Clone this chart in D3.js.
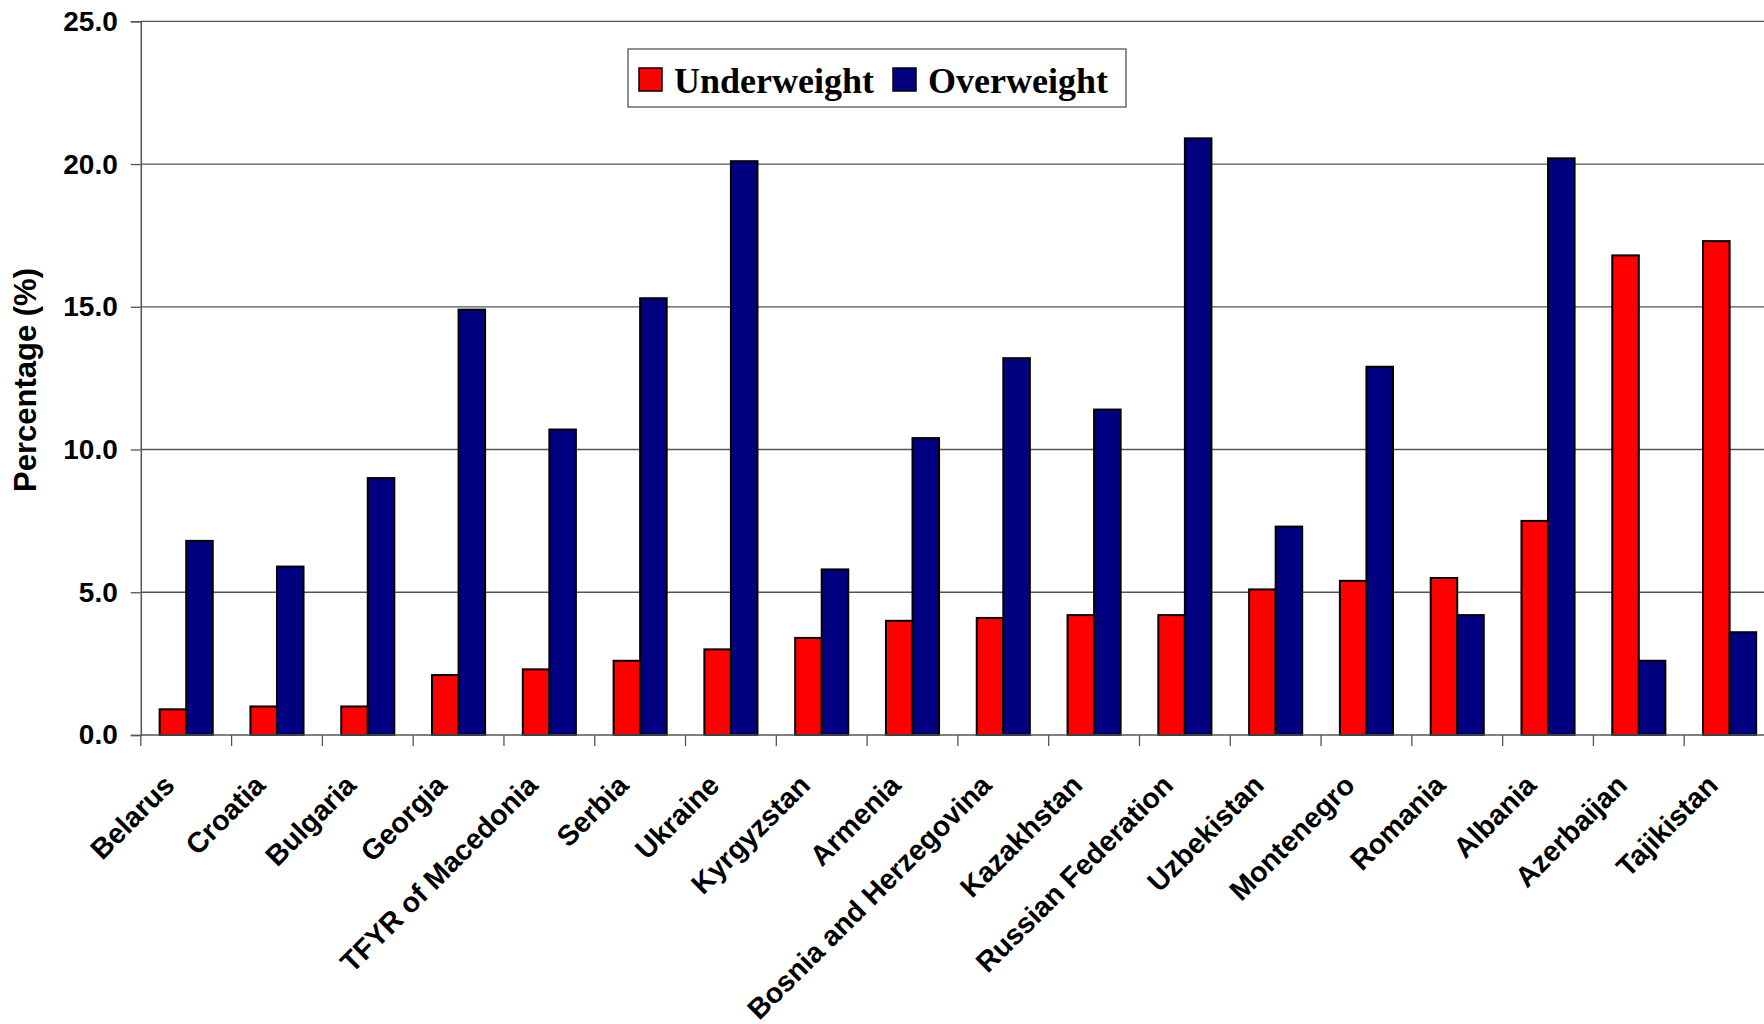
<!DOCTYPE html>
<html>
<head>
<meta charset="utf-8">
<script src="https://cdn.jsdelivr.net/npm/d3@7"></script>
<style>
  body { margin: 0; background: #fff; }
  svg { display: block; }
</style>
</head>
<body>
<svg id="canvas" width="1764" height="1024"></svg>
<script>
// countries along the x axis
const countries = [
  "Belarus", "Croatia", "Bulgaria", "Georgia", "TFYR of Macedonia", "Serbia",
  "Ukraine", "Kyrgyzstan", "Armenia", "Bosnia and Herzegovina", "Kazakhstan",
  "Russian Federation", "Uzbekistan", "Montenegro", "Romania", "Albania",
  "Azerbaijan", "Tajikistan"
];
const underweight = [0.9, 1.0, 1.0, 2.1, 2.3, 2.6, 3.0, 3.4, 4.0, 4.1, 4.2, 4.2, 5.1, 5.4, 5.5, 7.5, 16.8, 17.3];
const overweight = [6.8, 5.9, 9.0, 14.9, 10.7, 15.3, 20.1, 5.8, 10.4, 13.2, 11.4, 20.9, 7.3, 12.9, 4.2, 20.2, 2.6, 3.6];
const seriesNames = ["Underweight", "Overweight"];
const seriesColors = ["#ff0000", "#000080"];
const yTicks = [0, 5, 10, 15, 20, 25];

const svg = d3.select("#canvas");

const plotLeft = 140.8, plotRight = 1775, plotTop = 21.3, plotBottom = 735;

const x = d3.scaleBand().domain(countries).range([plotLeft, plotRight]).padding(0);
const xInner = d3.scaleBand().domain(seriesNames).range([0, x.bandwidth()])
  .paddingInner(0).paddingOuter(0.71);
const y = d3.scaleLinear().domain([0, 25]).range([plotBottom, plotTop]);
const color = d3.scaleOrdinal().domain(seriesNames).range(seriesColors);

// gridlines
svg.append("g")
  .selectAll("line")
  .data(yTicks.filter(d => d > 0))
  .enter().append("line")
  .attr("x1", plotLeft).attr("x2", plotRight)
  .attr("y1", d => y(d)).attr("y2", d => y(d))
  .attr("stroke", "#555").attr("stroke-width", 1.3);

// y axis
const yAxis = svg.append("g")
  .attr("transform", `translate(${plotLeft},0)`)
  .call(d3.axisLeft(y).tickValues(yTicks).tickFormat(d3.format(".1f")).tickSize(10).tickPadding(13));
yAxis.select(".domain").attr("stroke", "#555").attr("stroke-width", 1.5);
yAxis.selectAll(".tick line").attr("stroke", "#555").attr("stroke-width", 1.3);
yAxis.selectAll("text")
  .attr("font-family", "'Liberation Sans', Arial, sans-serif")
  .attr("font-weight", "bold")
  .attr("font-size", 28)
  .attr("fill", "#000");

// bars
const rows = countries.map((c, i) => ({ country: c, values: [underweight[i], overweight[i]] }));
const groups = svg.append("g")
  .selectAll("g")
  .data(rows)
  .enter().append("g")
  .attr("transform", d => `translate(${x(d.country)},0)`);

groups.selectAll("rect")
  .data(d => d.values.map((v, k) => ({ key: seriesNames[k], value: v })))
  .enter().append("rect")
  .attr("x", d => xInner(d.key))
  .attr("width", xInner.bandwidth())
  .attr("y", d => y(d.value))
  .attr("height", d => y(0) - y(d.value))
  .attr("fill", d => color(d.key))
  .attr("stroke", "#000")
  .attr("stroke-width", 2);

// x axis line and ticks at category boundaries
svg.append("line")
  .attr("x1", plotLeft).attr("x2", plotRight)
  .attr("y1", plotBottom).attr("y2", plotBottom)
  .attr("stroke", "#555").attr("stroke-width", 1.5);
svg.append("g")
  .selectAll("line")
  .data(countries)
  .enter().append("line")
  .attr("x1", d => x(d)).attr("x2", d => x(d))
  .attr("y1", plotBottom).attr("y2", plotBottom + 11)
  .attr("stroke", "#555").attr("stroke-width", 1.3);

// rotated category labels
svg.append("g")
  .selectAll("text")
  .data(countries)
  .enter().append("text")
  .attr("transform", d => `translate(${x(d) + x.bandwidth() / 2 - 10},787) rotate(-45)`)
  .attr("text-anchor", "end")
  .attr("font-family", "'Liberation Sans', Arial, sans-serif")
  .attr("font-weight", "bold")
  .attr("font-size", 28.5)
  .text(d => d);

// y axis title
svg.append("text")
  .attr("transform", "translate(36,380) rotate(-90)")
  .attr("text-anchor", "middle")
  .attr("font-family", "'Liberation Sans', Arial, sans-serif")
  .attr("font-weight", "bold")
  .attr("font-size", 31)
  .text("Percentage (%)");

// legend
const legend = svg.append("g");
legend.append("rect")
  .attr("x", 628).attr("y", 49)
  .attr("width", 498).attr("height", 58)
  .attr("fill", "#fff").attr("stroke", "#555").attr("stroke-width", 1.3);
const legendX = [639, 893];
const item = legend.selectAll("g.item")
  .data(seriesNames)
  .enter().append("g")
  .attr("class", "item")
  .attr("transform", (d, i) => `translate(${legendX[i]},0)`);
item.append("rect")
  .attr("x", 0).attr("y", 68)
  .attr("width", 23).attr("height", 23)
  .attr("fill", d => color(d))
  .attr("stroke", "#000").attr("stroke-width", 1.5);
item.append("text")
  .attr("x", 35).attr("y", 93)
  .attr("font-family", "'Liberation Serif', 'Times New Roman', serif")
  .attr("font-weight", "bold")
  .attr("font-size", 36)
  .text(d => d);
</script>
</body>
</html>
